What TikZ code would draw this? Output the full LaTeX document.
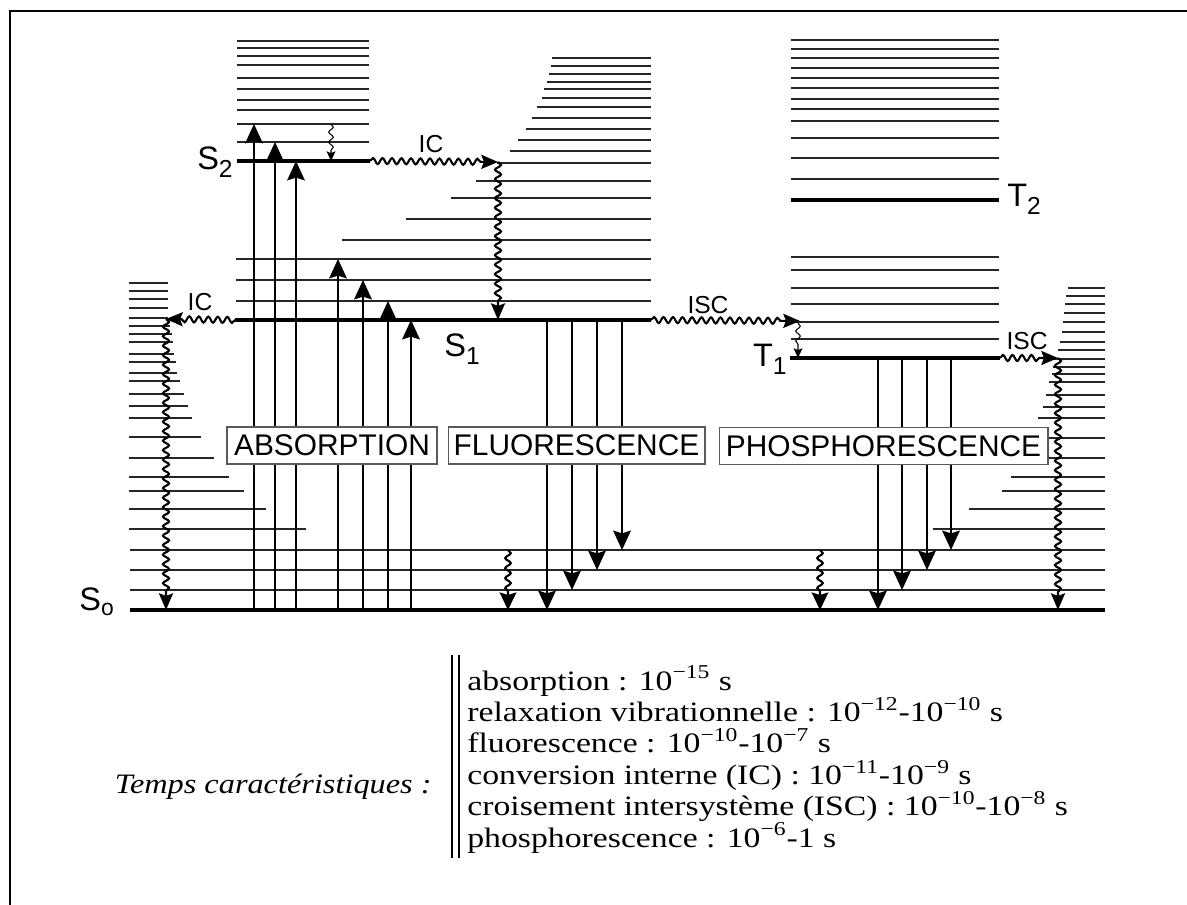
\documentclass[tikz,border=0pt]{standalone}
\usepackage{fontspec}
\setmainfont{Liberation Serif}
\setsansfont{Liberation Sans}
\newfontfamily\widetimes[FakeStretch=1.2]{Liberation Serif}
\newfontfamily\widetimesit[FakeStretch=1.15]{Liberation Serif}
\usetikzlibrary{arrows.meta, decorations.pathmorphing}

% level name with a lowered subscript
\newcommand{\lvlname}[2]{#1\raisebox{-4pt}{\fontsize{14}{14}\selectfont #2}}

\begin{document}
\begin{tikzpicture}[
    x=0.02cm, y=-0.02cm,
    level/.style={line width=0.85pt, black!85},
    state/.style={line width=2.8pt},
    radiative/.style={line width=1.3pt,
                      -{Stealth[length=11pt, width=10pt, inset=1.5pt]}},
    wavy/.style={line width=1.2pt, decorate,
                 decoration={snake, amplitude=0.6mm, segment length=1.9mm,
                             post length=3mm}},
    wavytip/.style={wavy, -{Stealth[length=9.5pt, width=8pt, inset=1.5pt]}},
    relax/.style={wavy, -{Stealth[length=10pt, width=9.5pt, inset=1.5pt]},
                  decoration={snake, amplitude=0.55mm, segment length=2mm,
                              post length=3.4mm}},
    thinwavy/.style={line width=0.6pt, decorate,
                     -{Stealth[length=5.5pt, width=5pt, inset=1pt]},
                     decoration={snake, amplitude=0.45mm, segment length=2mm,
                                 post length=2mm}},
    labelbox/.style={draw=black!65, line width=0.6pt, fill=white,
                     inner sep=0pt, minimum height=0.74cm,
                     font=\sffamily\fontsize{17}{18}\selectfont},
    statelabel/.style={font=\sffamily\fontsize{18.5}{20}\selectfont, inner sep=0pt},
    proclabel/.style={font=\sffamily\fontsize{14}{15}\selectfont, inner sep=0pt},
    timeline/.style={anchor=base west, inner sep=0pt,
                     font=\widetimes\fontsize{16}{17}\selectfont},
  ]

  \useasboundingbox (0,0) rectangle (1187,905);

  % frame (cut at right and bottom)
  \draw[line width=1.2pt] (10,905) -- (10,11) -- (1187,11);

  % =========================================================
  %  SINGLET S0 and its vibrational levels
  % =========================================================
  \foreach \y in {550,570,590}{
    \draw[level] (130,\y) -- (1105,\y);
  }
  % left-hand manifold, widening downwards
  \foreach \y/\xr in {283/168, 291/168, 299/168, 308/168, 318/168, 326/170,
                      334/172, 342/173, 354/174, 362/176, 373/177, 381/180,
                      394/184, 406/188, 418/192, 437/201, 458/214, 477/229,
                      491/244, 509/266, 529/306}{
    \draw[level] (129,\y) -- (\xr,\y);
  }
  % right-hand manifold
  \foreach \y/\xl in {288/1068, 296/1066, 304/1065, 313/1064, 322/1063,
                      332/1062, 342/1060, 350/1058, 359/1053, 367/1053,
                      374/1052, 382/1049, 395/1046, 407/1043, 418/1038,
                      438/1032, 458/1023, 477/1011, 491/1002, 509/969,
                      529/933}{
    \draw[level] (\xl,\y) -- (1105,\y);
  }
  \draw[state] (130,610) -- (1105,610);
  \node[statelabel, anchor=base west] (s0) at (79,610)
    {S\raisebox{-3pt}{\fontsize{13}{13}\selectfont o}};

  % =========================================================
  %  SINGLET S1
  % =========================================================
  \foreach \y/\xl in {58/552, 66/551, 74/549, 82/547, 89/544, 98/542,
                      107/537, 118/532, 129/526, 140/518, 151/510, 163/497,
                      181/476, 198/451, 219/406, 240/342, 259/236, 280/236,
                      301/236}{
    \draw[level] (\xl,\y) -- (651,\y);
  }
  \draw[state] (235,320) -- (651,320);
  \node[statelabel, anchor=base west] (s1) at (444,357) {\lvlname{S}{1}};

  % =========================================================
  %  SINGLET S2
  % =========================================================
  \foreach \y in {41,48,56,65,78,89,100,110,124,142}{
    \draw[level] (237,\y) -- (369,\y);
  }
  \draw[state] (237,161) -- (370,161);
  \node[statelabel, anchor=base east] (s2) at (233,170) {\lvlname{S}{2}};

  % =========================================================
  %  TRIPLETS T1, T2
  % =========================================================
  \foreach \y in {40,49,58,68,78,88,99,109,121,138,158,179,
                  257,270,288,304,322,339}{
    \draw[level] (791,\y) -- (999,\y);
  }
  \draw[state] (791,200) -- (999,200);
  \draw[state] (790,358) -- (1000,358);
  \node[statelabel, anchor=base west] (t2) at (1007,207) {\lvlname{T}{2}};
  \node[statelabel, anchor=base east] (t1) at (787,367) {\lvlname{T}{1}};

  % =========================================================
  %  RADIATIVE TRANSITIONS
  % =========================================================
  % absorption
  \foreach \x/\y in {254/124, 275/142, 296/161, 338/259, 363/280,
                     388/301, 411/320}{
    \draw[radiative] (\x,610) -- (\x,\y);
  }
  % fluorescence
  \foreach \x/\y in {547/610, 572/590, 597/570, 622/550}{
    \draw[radiative] (\x,320) -- (\x,\y);
  }
  % phosphorescence
  \foreach \x/\y in {878/610, 902/590, 927/570, 951/550}{
    \draw[radiative] (\x,358) -- (\x,\y);
  }

  % =========================================================
  %  NON-RADIATIVE TRANSITIONS
  % =========================================================
  % S2 -> S1 internal conversion
  \coordinate (icA) at (498,162);
  \draw[wavytip] (370,161) -- (icA);
  \draw[wavytip] (icA) -- (498,320);
  \node[proclabel] (icAlbl) at (431,144) {IC};

  % S1 -> S0 internal conversion
  \coordinate (icB) at (166,319);
  \draw[wavytip] (235,320) -- (icB);
  \draw[wavytip] (icB) -- (166,610);
  \node[proclabel] (icBlbl) at (200,302) {IC};

  % S1 -> T1 intersystem crossing
  \coordinate (iscA) at (800,321);
  \draw[wavytip] (651,320) -- (iscA);
  \node[proclabel] (iscAlbl) at (708,305) {ISC};

  % T1 -> S0 intersystem crossing
  \coordinate (iscB) at (1058,358);
  \draw[wavytip] (1000,358) -- (iscB);
  \draw[wavytip] (iscB) -- (1058,610);
  \node[proclabel] (iscBlbl) at (1027,341) {ISC};

  % vibrational relaxation
  \draw[thinwavy] (331,124) -- (331,161);
  \draw[thinwavy] (798,323) -- (798,358);
  \draw[relax] (508,550) -- (508,610);
  \draw[relax] (820,550) -- (820,610);

  % process boxes on top of the arrows
  \node[labelbox, minimum width=4.2cm]  (abs) at (332,445.5) {ABSORPTION};
  \node[labelbox, minimum width=5.14cm] (flu) at (576.5,445.5) {FLUORESCENCE};
  \node[labelbox, minimum width=6.58cm] (pho) at (883.5,446) {PHOSPHORESCENCE};

  % =========================================================
  %  CHARACTERISTIC TIMES
  % =========================================================
  \draw[line width=1.7pt] (452,655) -- (452,858);
  \draw[line width=1.7pt] (459,655) -- (459,858);
  \node[timeline, anchor=base east, font=\widetimesit\itshape\fontsize{16}{17}\selectfont]
    (tcar) at (432,793) {Temps caractéristiques :};
  \foreach \txt [count=\i from 0] in {%
      absorption : 10\textsuperscript{−15} s,
      relaxation vibrationnelle : 10\textsuperscript{−12}-10\textsuperscript{−10} s,
      fluorescence : 10\textsuperscript{−10}-10\textsuperscript{−7} s,
      conversion interne (IC) : 10\textsuperscript{−11}-10\textsuperscript{−9} s,
      croisement intersystème (ISC) : 10\textsuperscript{−10}-10\textsuperscript{−8} s,
      phosphorescence : 10\textsuperscript{−6}-1 s}{
    \node[timeline] (tl\i) at (467,{690+31.4*\i}) {\txt};
  }

\end{tikzpicture}
\end{document}
